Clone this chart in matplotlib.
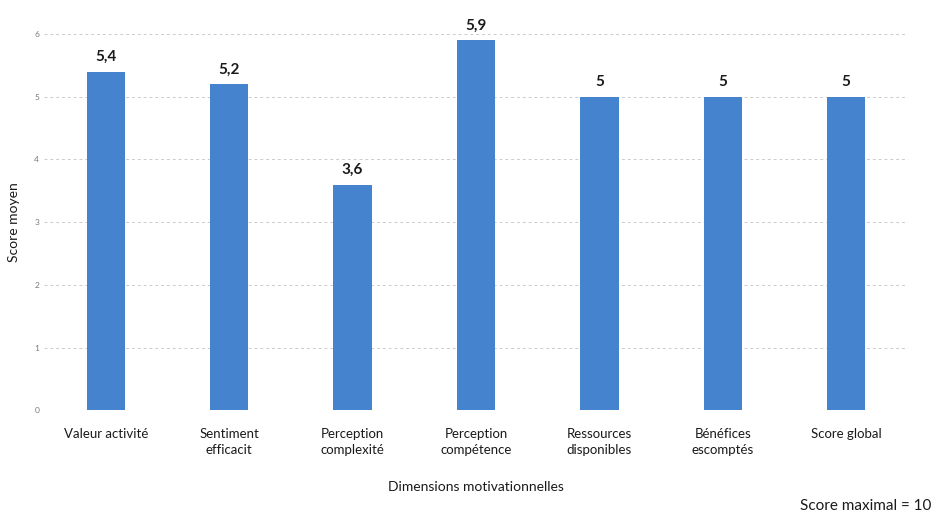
import matplotlib
matplotlib.use("Agg")
import matplotlib.pyplot as plt

plt.rcParams['font.family'] = ['Lato', 'DejaVu Sans']

# Données
categories = ["Valeur activité", "Sentiment\nefficacit", "Perception\ncomplexité",
              "Perception\ncompétence", "Ressources\ndisponibles", "Bénéfices\nescomptés",
              "Score global"]
scores = [5.4, 5.2, 3.6, 5.9, 5.0, 5.0, 5.0]
value_labels = ["5,4", "5,2", "3,6", "5,9", "5", "5", "5"]
y_ticks = [0, 1, 2, 3, 4, 5, 6]

fig = plt.figure(figsize=(9.36, 5.16), dpi=100)
ax = fig.add_axes([0.047, 0.205, 0.923, 0.729])

x = range(len(categories))
bars = ax.bar(x, scores, width=0.31, color="#4583cf", zorder=3)

for b, lab in zip(bars, value_labels):
    ax.text(b.get_x() + b.get_width() / 2, b.get_height() + 0.12, lab,
            ha="center", va="bottom", fontsize=11, fontweight="bold", color="#1a1a1a")

ax.set_xlim(-0.5, len(categories) - 0.5)
ax.set_ylim(0, 6)
ax.set_yticks(y_ticks)
ax.set_yticklabels([str(t) for t in y_ticks], fontsize=6, color="#777777")
ax.set_xticks(list(x))
ax.set_xticklabels(categories, fontsize=9.5, color="#1a1a1a", linespacing=1.4)
ax.tick_params(axis="both", length=0)
ax.tick_params(axis="x", pad=13)
ax.grid(axis="y", linestyle=(0, (3, 3)), color="#cccccc", linewidth=0.7, zorder=0)

for s in ax.spines.values():
    s.set_visible(False)

ax.set_ylabel("Score moyen", fontsize=10, color="#1a1a1a", labelpad=10)
ax.set_xlabel("Dimensions motivationnelles", fontsize=10, color="#1a1a1a", labelpad=18)

fig.text(0.995, 0.005, "Score maximal = 10", ha="right", va="bottom", fontsize=11, color="#1a1a1a")

fig.savefig("out.png", dpi=100)
